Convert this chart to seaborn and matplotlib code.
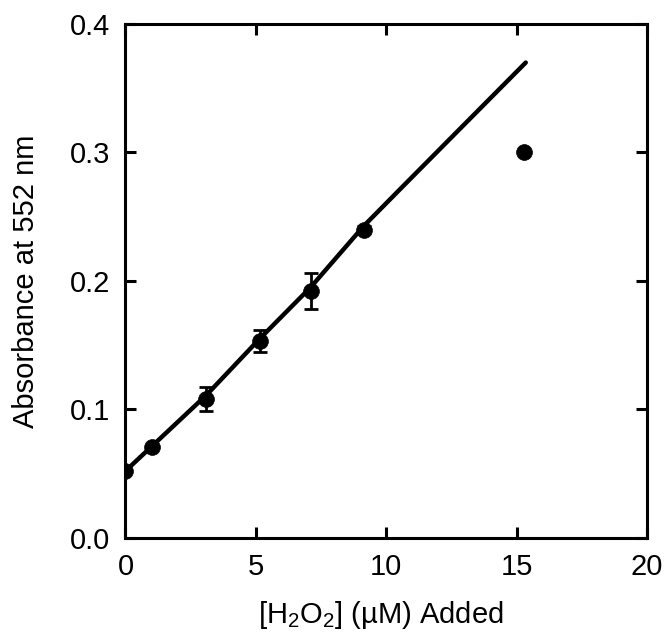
import numpy as np
import pandas as pd
import seaborn as sns
import matplotlib
matplotlib.use("Agg")
import matplotlib.pyplot as plt

# Data
h2o2_added = [0.0, 1.0, 3.1, 5.15, 7.1, 9.15, 15.3]
absorbance = [0.052, 0.071, 0.108, 0.153, 0.192, 0.240, 0.300]
abs_err = [0.0, 0.0, 0.0095, 0.0085, 0.0142, 0.003, 0.0]

fit_x = [0.0, 1.0, 3.1, 5.15, 7.1, 9.15, 10.56, 13.1, 15.35]
fit_y = [0.052, 0.071, 0.111, 0.155, 0.195, 0.243, 0.272, 0.324, 0.370]

x_ticks = [0, 5, 10, 15, 20]
y_ticks = [0.0, 0.1, 0.2, 0.3, 0.4]
y_tick_labels = ["0.0", "0.1", "0.2", "0.3", "0.4"]

sns.set_theme(style="ticks")
plt.rcParams['font.family'] = ['Liberation Sans', 'DejaVu Sans']
plt.rcParams['mathtext.fontset'] = 'custom'
plt.rcParams['mathtext.rm'] = 'Liberation Sans'
plt.rcParams['mathtext.it'] = 'Liberation Sans:italic'
plt.rcParams['mathtext.bf'] = 'Liberation Sans:bold'
plt.rcParams['text.color'] = 'black'
plt.rcParams['axes.labelcolor'] = 'black'

fig = plt.figure(figsize=(6.66, 6.39), dpi=100)
ax = fig.add_axes([0.1884, 0.1585, 0.9715 - 0.1884, 0.9624 - 0.1585])

pts = pd.DataFrame({"x": h2o2_added, "y": absorbance, "err": abs_err})
fit = pd.DataFrame({"x": fit_x, "y": fit_y})

sns.lineplot(data=fit, x="x", y="y", ax=ax, color="black", linewidth=3.2,
             sort=True, solid_capstyle="round", solid_joinstyle="round")
ax.errorbar(pts["x"], pts["y"], yerr=pts["err"], fmt="none", ecolor="black",
            elinewidth=2, capsize=5, capthick=2)
sns.scatterplot(data=pts, x="x", y="y", ax=ax, color="black", s=130,
                edgecolor="black", linewidth=0.5, zorder=5)

ax.set_xlim(0, 20)
ax.set_ylim(0, 0.4)
ax.set_xticks(x_ticks)
ax.set_yticks(y_ticks)
ax.set_yticklabels(y_tick_labels)
ax.tick_params(direction="in", length=8, width=2.2, labelsize=21, pad=11,
               top=True, right=True, colors="black", labelcolor="black")
for s in ax.spines.values():
    s.set_linewidth(2.2)
    s.set_color("black")

ax.set_xlabel("[H$_2$O$_2$] (µM) Added", fontsize=21, color="black")
ax.set_ylabel("Absorbance at 552 nm", fontsize=21, color="black")
ax.xaxis.set_label_coords(0.49, -0.12)
ax.yaxis.set_label_coords(-0.163, 0.5)

fig.savefig("out.png", dpi=100, facecolor="white")
